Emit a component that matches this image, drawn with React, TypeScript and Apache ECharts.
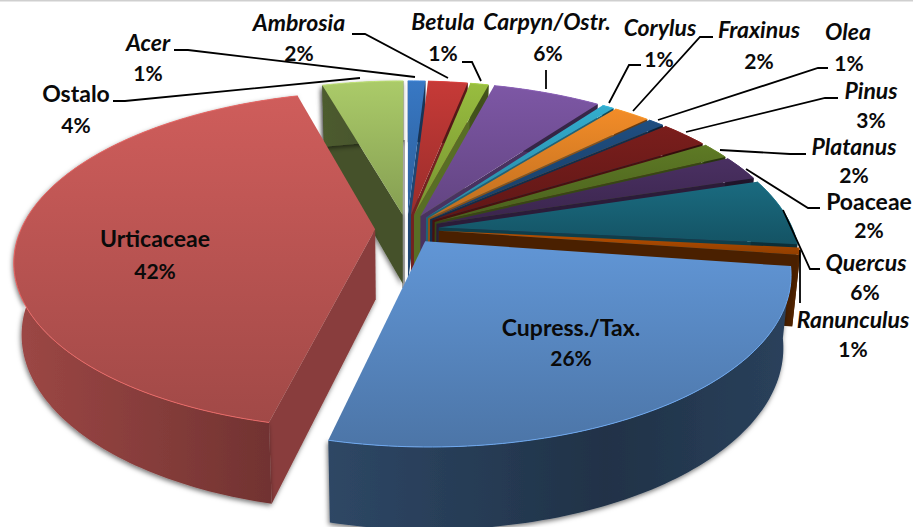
import React, { useEffect, useRef } from "react";
import * as echarts from "echarts";

const categories = ["Acer","Ambrosia","Betula","Carpyn/Ostr.","Corylus","Fraxinus","Olea","Pinus","Platanus","Poaceae","Quercus","Ranunculus","Cupress./Tax.","Urticaceae","Ostalo"];
const values = [0.95,2.15,1.0,5.9,0.65,2.0,0.9,2.65,1.6,2.4,6.4,0.7,26.4,41.9,4.4];
const percentLabels = ["1%","2%","1%","6%","1%","2%","1%","3%","2%","2%","6%","1%","26%","42%","4%"];
const colors = ["#3878C4","#C63A37","#98BD3F","#7D57A5","#33ADCE","#F28C28","#1F4E80","#7A1E1C","#5E7A25","#4A3062","#1A6B80","#B95000","#6196D6","#CF5D5B","#ABCB69"];
const drawOrder = [0,14,1,2,3,4,5,6,7,8,9,10,11,13,12];
const upright = ["Poaceae","Cupress./Tax.","Urticaceae","Ostalo"];
const shadowed = ["Cupress./Tax.","Urticaceae","Ostalo"];
// label centres: name x, name y, percent x, percent y
const labelPos = [[148,42,148,72],[299,22,299,52],[443,21,443,52],[547,21,548,52],[660,27,659,58],[759,29,759,60],[848,31,849,62],[871,90,871,119],[854,146,854,174],[869,201,869,229],[866,262,865,291],[853,319,853,348],[571,327,571,357],[155,238,155,270],[76,93,76,124]];
const leaders = [
  [[174,50],[188,50],[415,77]],[[352,34],[365,34],[448,78]],[[462,62],[472,62],[481,81]],[[546,70],[546,89]],
  [[641,65],[629,65],[609,103]],[[713,37],[700,37],[633,111]],[[828,68],[818,68],[658,120]],[[838,98],[825,98],[686,132]],
  [[806,154],[790,154],[720,150]],[[820,208],[808,208],[746,169]],[[820,269],[810,269],[783,210]],[[800,303],[800,250]],
  [[113,101],[125,101],[360,78]],
];
const CX = 407, CY = 229, RX = 354, RY = 163, PERSP = 0.183, EXPLODE = 0.09, DEPTH = 70, BACK = 0.98;

function shade(hex: string, f: number) {
  const n = parseInt(hex.slice(1), 16);
  const c = [(n >> 16) & 255, (n >> 8) & 255, n & 255].map((x) => Math.min(255, Math.round(x * f)));
  return `rgb(${c[0]},${c[1]},${c[2]})`;
}
function project(u: number, v: number, bottom: boolean) {
  const d = 1 + PERSP * v;
  let x = (RX * u) / d, y = (-RY * v) / d;
  if (bottom) { x *= BACK; y = y * BACK + DEPTH / d; }
  return [CX + x, CY + y];
}
const total = values.reduce((a, b) => a + b, 0);
const starts: number[] = [];
values.reduce((acc, v, i) => { starts[i] = acc; return acc + v; }, 0);

function renderSlice(_: any, api: any) {
  const i = api.value(0) as number;
  const a0 = (starts[i] / total) * Math.PI * 2;
  const a1 = ((starts[i] + values[i]) / total) * Math.PI * 2;
  const m = (a0 + a1) / 2;
  const ou = EXPLODE * Math.sin(m), ov = EXPLODE * Math.cos(m);
  const at = (t: number, b: boolean) => project(Math.sin(t) + ou, Math.cos(t) + ov, b);
  const apexT = project(ou, ov, false), apexB = project(ou, ov, true);
  const steps = Math.max(3, Math.round((a1 - a0) * 50));
  const arcT: number[][] = [], arcB: number[][] = [];
  for (let s = 0; s <= steps; s++) {
    const t = a0 + ((a1 - a0) * s) / steps;
    arcT.push(at(t, false)); arcB.push(at(t, true));
  }
  const c = colors[i], name = categories[i];
  const isU = name === "Urticaceae", isC = name === "Cupress./Tax.";
  const radialF = isU ? 0.66 : isC ? 0.5 : name === "Ostalo" || name === "Ranunculus" ? 0.4 : 0.58;
  const wallStops = isU ? [0.76, 0.62, 0.52] : isC ? [0.47, 0.33, 0.43] : [0.45, 0.42, 0.45];
  const sh = shadowed.includes(name) ? { shadowBlur: 5, shadowColor: "rgba(0,0,0,0.55)", shadowOffsetX: -1, shadowOffsetY: 2 } : {};
  const children: any[] = [];
  if (Math.sin(a0) < -1e-6) children.push({ type: "polygon", shape: { points: [apexT, arcT[0], arcB[0], apexB] }, style: { fill: shade(c, radialF), ...sh } });
  if (Math.sin(a1) > 1e-6) children.push({ type: "polygon", shape: { points: [apexT, arcT[steps], arcB[steps], apexB] }, style: { fill: shade(c, radialF), ...sh } });
  children.push(
    { type: "polygon", shape: { points: [...arcT, ...arcB.slice().reverse()] }, style: {
        fill: new echarts.graphic.LinearGradient(0, 0, 1, 0, [
          { offset: 0, color: shade(c, wallStops[0]) }, { offset: 0.6, color: shade(c, wallStops[1]) }, { offset: 1, color: shade(c, wallStops[2]) },
        ]), ...sh } },
    { type: "polygon", shape: { points: [apexT, ...arcT] }, style: {
        fill: new echarts.graphic.LinearGradient(0, 0, 0, 1, [
          { offset: 0, color: c }, { offset: 1, color: shade(c, 0.78) },
        ]) } },
    { type: "polyline", shape: { points: arcT }, style: { stroke: shade(c, 1.12), lineWidth: 1, fill: "none" } },
  );
  return { type: "group", children };
}

const textEl = (text: string, x: number, y: number, italic: boolean, size: number) => ({
  type: "text", x, y, z: 100,
  style: { text, fill: "#0a0a0a", font: `${italic ? "italic " : ""}bold ${size}px Lato, "Open Sans", sans-serif`, textAlign: "center", textVerticalAlign: "middle", textBaseline: "middle" },
});

export default function App() {
  const ref = useRef<HTMLDivElement>(null);
  useEffect(() => {
    const chart = echarts.init(ref.current!, undefined, { renderer: "svg" });
    const labels: any[] = [];
    categories.forEach((name, i) => {
      const [nx, ny, px, py] = labelPos[i];
      labels.push(textEl(name, nx, ny, !upright.includes(name), 23));
      labels.push(textEl(percentLabels[i], px, py, false, 21));
    });
    chart.setOption({
      animation: false,
      backgroundColor: "#ffffff",
      series: [{
        type: "custom", coordinateSystem: "none", renderItem: renderSlice, silent: true,
        data: drawOrder.map((i) => [i]),
      }],
      graphic: { elements: [
        { type: "rect", z: 0, shape: { x: 0, y: 0, width: 913, height: 1.5 }, style: { fill: "#cfcfcf" } },
        { type: "rect", z: 0, shape: { x: 402, y: 140, width: 3, height: 148 }, style: { fill: "#a8a8a8" } },
        ...leaders.map((points) => ({ type: "polyline", z: 90, shape: { points }, style: { stroke: "#000", lineWidth: 1.8, fill: "none" } })),
        ...labels,
      ] },
    });
    return () => chart.dispose();
  }, []);
  return <div ref={ref} style={{ position: "fixed", left: 0, top: 0, width: 913, height: 527, background: "#fff" }} />;
}
